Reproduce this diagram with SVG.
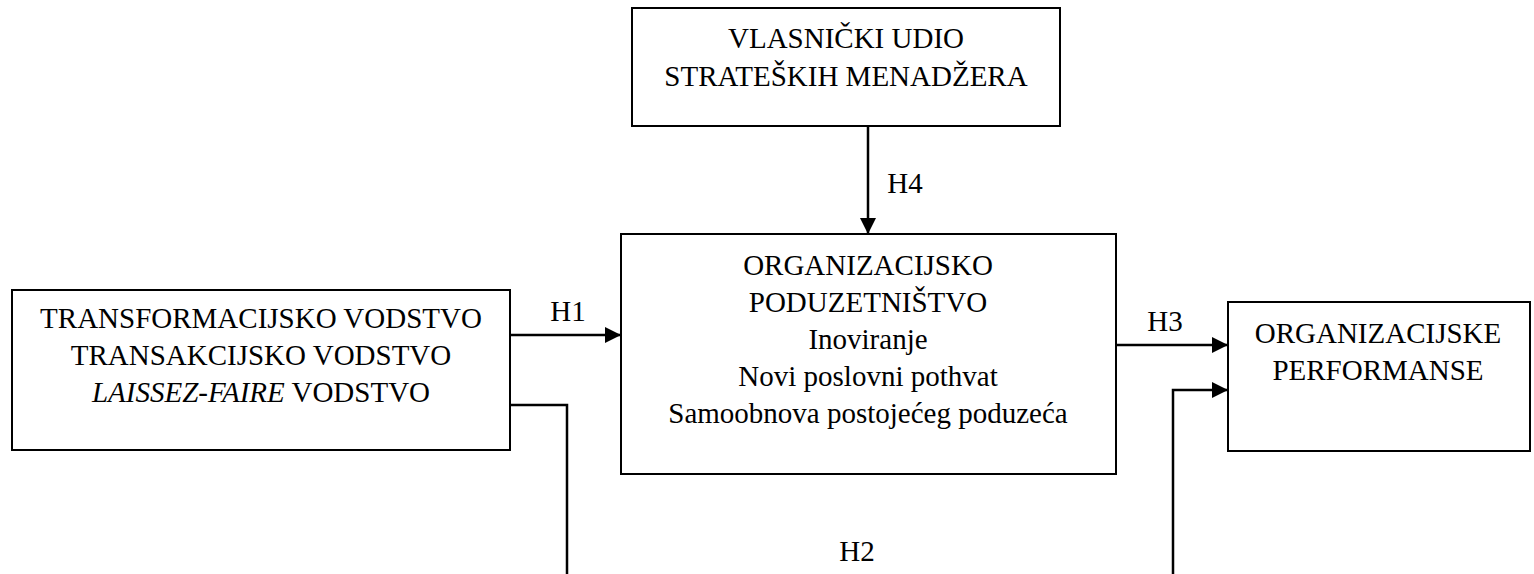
<svg xmlns="http://www.w3.org/2000/svg" width="1534" height="574" viewBox="0 0 1534 574">
<style>
.box{fill:#fff;stroke:#000;stroke-width:2}
.t{font-size:29px;fill:#000;text-anchor:middle}
.c{fill:none;stroke:#000;stroke-width:2.5}
</style>
<defs>
<marker id="ah" markerWidth="16" markerHeight="16" refX="14" refY="7" orient="auto" markerUnits="userSpaceOnUse" viewBox="0 0 14 14">
<path d="M0,0 L14,7 L0,14 z" fill="#000"/>
</marker>
</defs>
<rect width="1534" height="574" fill="#fff"/>
<g font-family="Liberation Serif, Times New Roman, serif">
<g id="n-top">
<rect class="box" x="632" y="8" width="428" height="118"/>
<text class="t" x="846" y="48">VLASNIČKI UDIO</text>
<text class="t" x="846" y="86">STRATEŠKIH MENADŽERA</text>
</g>
<g id="n-mid">
<rect class="box" x="621" y="234" width="495" height="240"/>
<text class="t" x="868" y="275">ORGANIZACIJSKO</text>
<text class="t" x="868" y="312">PODUZETNIŠTVO</text>
<text class="t" x="868" y="349">Inoviranje</text>
<text class="t" x="868" y="386">Novi poslovni pothvat</text>
<text class="t" x="868" y="423">Samoobnova postojećeg poduzeća</text>
</g>
<g id="n-left">
<rect class="box" x="12" y="290" width="498" height="160"/>
<text class="t" x="261" y="328">TRANSFORMACIJSKO VODSTVO</text>
<text class="t" x="261" y="365">TRANSAKCIJSKO VODSTVO</text>
<text class="t" x="261" y="402"><tspan font-style="italic">LAISSEZ-FAIRE</tspan> VODSTVO</text>
</g>
<g id="n-right">
<rect class="box" x="1228" y="302" width="302" height="149"/>
<text class="t" x="1378" y="343">ORGANIZACIJSKE</text>
<text class="t" x="1378" y="380">PERFORMANSE</text>
</g>
<g id="connectors">
<line class="c" x1="868" y1="126" x2="868" y2="234" marker-end="url(#ah)"/>
<line class="c" x1="510" y1="335" x2="621" y2="335" marker-end="url(#ah)"/>
<line class="c" x1="1116" y1="345" x2="1228" y2="345" marker-end="url(#ah)"/>
<polyline class="c" points="510,405 567,405 567,574"/>
<polyline class="c" points="1173,574 1173,390 1228,390" marker-end="url(#ah)"/>
<text class="t" x="905" y="193">H4</text>
<text class="t" x="568" y="321">H1</text>
<text class="t" x="1165" y="331">H3</text>
<text class="t" x="857" y="561">H2</text>
</g>
</g>
</svg>
